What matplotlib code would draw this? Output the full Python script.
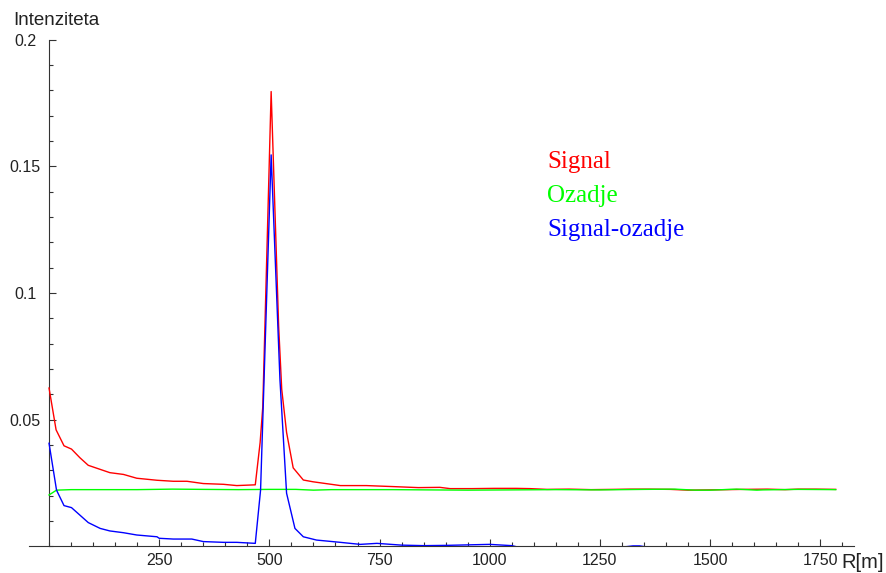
import matplotlib
matplotlib.use("Agg")
import matplotlib.pyplot as plt
from matplotlib.ticker import MultipleLocator, FixedLocator

# ---- data ----
signal_x = [0, 16, 34, 51, 70, 89, 116, 138, 169, 199, 245, 282, 313, 350, 396, 426, 468,
            479, 485, 504, 521, 528, 539, 554, 577, 599, 661, 720, 781, 838, 887, 910,
            960, 1010, 1060, 1091, 1130, 1180, 1230, 1280, 1320, 1360, 1410, 1450,
            1500, 1540, 1575, 1630, 1670, 1700, 1740, 1785]
signal_y = [0.0625, 0.0460, 0.0397, 0.0384, 0.0350, 0.0320, 0.0304, 0.0291, 0.0284, 0.0269,
            0.0261, 0.0257, 0.0257, 0.0248, 0.0245, 0.0240, 0.0243,
            0.0410, 0.0550, 0.1795, 0.0870, 0.0620, 0.0450, 0.0310, 0.0262, 0.0255, 0.0240,
            0.0240, 0.0236, 0.0232, 0.0233, 0.0228,
            0.0228, 0.0229, 0.0229, 0.0228, 0.0225, 0.0226, 0.0224, 0.0225, 0.0226, 0.0226,
            0.0225, 0.0222, 0.0223, 0.0224, 0.0225, 0.0226, 0.0224, 0.0226, 0.0226, 0.0225]

background_x = [0, 17, 50, 120, 200, 280, 350, 430, 500, 560, 600, 640, 700, 780, 860,
                950, 1050, 1150, 1250, 1350, 1420, 1466, 1500, 1560, 1606, 1620, 1700, 1785]
background_y = [0.0203, 0.0222, 0.0224, 0.0224, 0.0224, 0.0226, 0.0225, 0.0224, 0.0225,
                0.0225, 0.0222, 0.0224, 0.0224, 0.0224, 0.0223, 0.0222, 0.0223, 0.0224,
                0.0223, 0.0225, 0.0226, 0.0222, 0.0222, 0.0226, 0.0222, 0.0223, 0.0225, 0.0224]

difference_x = [0, 17, 34, 51, 89, 116, 138, 169, 199, 245, 250, 282, 324, 350, 396, 426, 468,
                480, 504, 524, 539, 558, 577, 607, 661, 706, 744, 800, 850, 900, 950, 1000,
                1050, 1070, 1150, 1250, 1310, 1325, 1340, 1355, 1450, 1600, 1785]
difference_y = [0.0407, 0.0222, 0.0161, 0.0153, 0.0094, 0.0071, 0.0061, 0.0054, 0.0045,
                0.0038, 0.0032, 0.0029, 0.0029, 0.0019, 0.0016, 0.0016, 0.0012,
                0.0222, 0.1545, 0.0657, 0.0210, 0.0071, 0.0038, 0.0025, 0.0016, 0.0008,
                0.0012, 0.0005, 0.0003, 0.0004, 0.0006, 0.0008,
                0.0003, -0.0005, -0.0004, -0.0003, -0.0001, 0.0002, 0.0002, -0.0002,
                -0.0004, -0.0003, -0.0003]

series_labels = ["Signal", "Ozadje", "Signal-ozadje"]
series_colors = ["#ff0000", "#00ff00", "#0000ff"]

x_major_ticks = [250, 500, 750, 1000, 1250, 1500, 1750]
y_major_ticks = [0.05, 0.1, 0.15, 0.2]
y_tick_labels = ["0.05", "0.1", "0.15", "0.2"]

# ---- figure ----
W, H = 886, 573
fig = plt.figure(figsize=(W / 100, H / 100), dpi=100)
ax = fig.add_axes([29.2 / W, (H - 546.4) / H, (854.2 - 29.2) / W, (546.4 - 39.6) / H])

for xs, ys, c in zip([signal_x, background_x, difference_x],
                     [signal_y, background_y, difference_y], series_colors):
    ax.plot(xs, ys, color=c, lw=1.0, zorder=3)

ax.set_xlim(-45, 1827)
ax.set_ylim(0, 0.2)

for s in ["top", "right"]:
    ax.spines[s].set_visible(False)
ax.spines["left"].set_position(("data", 0))
ax.spines["bottom"].set_position(("data", 0))
for s in ["left", "bottom"]:
    ax.spines[s].set_color("#333333")
    ax.spines[s].set_linewidth(0.8)

ax.xaxis.set_major_locator(FixedLocator(x_major_ticks))
ax.xaxis.set_minor_locator(MultipleLocator(50))
ax.set_xticklabels([str(v) for v in x_major_ticks])
ax.yaxis.set_major_locator(FixedLocator(y_major_ticks))
ax.yaxis.set_minor_locator(MultipleLocator(0.01))
ax.set_yticklabels(y_tick_labels)

ax.tick_params(axis="both", which="both", direction="in", color="#333333", width=0.8)
ax.tick_params(axis="both", which="major", length=5)
ax.tick_params(axis="both", which="minor", length=3)
ax.tick_params(axis="x", which="major", pad=5, labelsize=11.5, labelcolor="#222222")
ax.tick_params(axis="y", which="major", pad=17, labelsize=11.5, labelcolor="#222222")
for lab in ax.get_xticklabels() + ax.get_yticklabels():
    lab.set_fontfamily("Liberation Sans")
for lab in ax.get_yticklabels():
    lab.set_horizontalalignment("center")

fig.text(13 / W, (H - 25) / H, "Intenziteta", fontsize=13.5, family="Liberation Sans",
         color="#222222", ha="left", va="baseline")
fig.text(841 / W, (H - 568) / H, "R[m]", fontsize=14.5, family="Liberation Sans",
         color="#222222", ha="left", va="baseline")

legend_baselines = [168, 202, 236]
for lab, c, yb in zip(series_labels, series_colors, legend_baselines):
    fig.text(547 / W, (H - yb) / H, lab, fontsize=18, family="Liberation Serif",
             color=c, ha="left", va="baseline")

fig.savefig("out.png", dpi=100)
